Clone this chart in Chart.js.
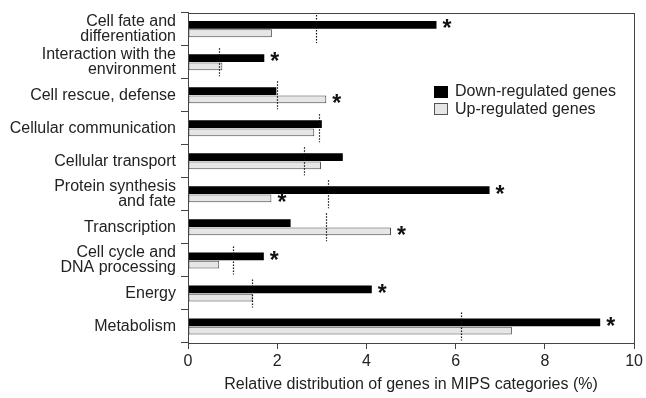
<!DOCTYPE html>
<html>
<head>
<meta charset="utf-8">
<script src="https://cdn.jsdelivr.net/npm/chart.js@4.4.1/dist/chart.umd.min.js"></script>
<style>
  html, body { margin: 0; padding: 0; background: #fff; }
  #wrap { width: 646px; height: 398px; position: relative; }
</style>
</head>
<body>
<div id="wrap"><canvas id="mipsChart"></canvas></div>
<script>
// Categorias MIPS (de arriba hacia abajo)
const categories = [
    ["Cell fate and", "differentiation"],
    ["Interaction with the", "environment"],
    ["Cell rescue, defense"],
    ["Cellular communication"],
    ["Cellular transport"],
    ["Protein synthesis", "and fate"],
    ["Transcription"],
    ["Cell cycle and", "DNA processing"],
    ["Energy"],
    ["Metabolism"],
];
const downValues = [5.57, 1.71, 1.98, 3.0, 3.47, 6.76, 2.3, 1.7, 4.12, 9.24];
const upValues = [1.88, 0.77, 3.1, 2.83, 2.98, 1.87, 4.55, 0.7, 1.45, 7.26];
// Valor esperado (linea punteada)
const expectedValues = [2.87, 0.69, 2.0, 2.94, 2.59, 3.14, 3.1, 1.01, 1.43, 6.12];
// Asteriscos de significancia
const downSignificant = [true, true, false, false, false, true, false, true, true, true];
const upSignificant = [false, false, true, false, false, true, true, false, false, false];
const xTicks = [0, 2, 4, 6, 8, 10];

const textColor = "#222";
const fontFamily = "'Liberation Sans', Arial, sans-serif";

const extrasPlugin = {
    id: "extras",
    afterDatasetsDraw(chart) {
        const ctx = chart.ctx;
        const area = chart.chartArea;
        const xScale = chart.scales.x;
        const downMeta = chart.getDatasetMeta(0);
        const upMeta = chart.getDatasetMeta(1);

        ctx.save();
        // Lineas punteadas del valor esperado
        ctx.strokeStyle = "#111";
        ctx.lineWidth = 1.2;
        ctx.setLineDash([1.5, 1.5]);
        expectedValues.forEach((v, i) => {
            const x = Math.round(xScale.getPixelForValue(v)) + 0.5;
            const yc = (downMeta.data[i].y + upMeta.data[i].y) / 2;
            ctx.beginPath();
            ctx.moveTo(x, yc - 14);
            ctx.lineTo(x, yc + 14);
            ctx.stroke();
        });
        ctx.setLineDash([]);

        // Asteriscos
        ctx.fillStyle = "#111";
        ctx.font = "bold 23px " + fontFamily;
        ctx.textAlign = "left";
        ctx.textBaseline = "middle";
        downSignificant.forEach((s, i) => {
            if (!s) return;
            const bar = downMeta.data[i];
            ctx.fillText("*", bar.x + 6, bar.y + 5);
        });
        upSignificant.forEach((s, i) => {
            if (!s) return;
            const bar = upMeta.data[i];
            ctx.fillText("*", bar.x + 6, bar.y + 5);
        });

        // Marco del grafico
        ctx.strokeStyle = "#444";
        ctx.lineWidth = 1;
        ctx.strokeRect(
            Math.round(area.left) + 0.5,
            Math.round(area.top) + 0.5,
            Math.round(area.right - area.left),
            Math.round(area.bottom - area.top)
        );

        // Leyenda dentro del area
        ctx.font = "16px " + fontFamily;
        ctx.textBaseline = "middle";
        ctx.fillStyle = "#000";
        ctx.fillRect(434, 86, 14, 12);
        ctx.fillStyle = "#e6e6e6";
        ctx.fillRect(434, 103, 14, 12);
        ctx.strokeStyle = "#555";
        ctx.strokeRect(434.5, 103.5, 13, 11);
        ctx.fillStyle = textColor;
        ctx.fillText("Down-regulated genes", 455, 92);
        ctx.fillText("Up-regulated genes", 455, 110);
        ctx.restore();
    },
};

const ctx = document.getElementById("mipsChart").getContext("2d");

new Chart(ctx, {
    type: "bar",
    data: {
        labels: categories,
        datasets: [
            {
                label: "Down-regulated genes",
                data: downValues,
                backgroundColor: "#000",
                borderColor: "#000",
                borderWidth: 0,
                categoryPercentage: 0.5,
                barPercentage: 0.94,
            },
            {
                label: "Up-regulated genes",
                data: upValues,
                backgroundColor: "#e6e6e6",
                borderColor: "#444",
                borderWidth: 1,
                borderSkipped: false,
                categoryPercentage: 0.5,
                barPercentage: 0.94,
            },
        ],
    },
    options: {
        indexAxis: "y",
        responsive: true,
        maintainAspectRatio: false,
        animation: false,
        layout: { padding: { top: 11, right: 10, left: 0, bottom: 0 } },
        plugins: {
            legend: { display: false },
            tooltip: { enabled: false },
        },
        scales: {
            x: {
                min: 0,
                max: 10,
                afterBuildTicks: (scale) => {
                    scale.ticks = xTicks.map((v) => ({ value: v }));
                },
                afterFit: (scale) => {
                    scale.height = 55;
                },
                grid: {
                    drawOnChartArea: false,
                    tickLength: 6,
                    color: "#444",
                },
                border: { color: "#444" },
                ticks: {
                    color: textColor,
                    padding: 3,
                    maxRotation: 0,
                    font: { family: fontFamily, size: 16 },
                },
                title: {
                    display: true,
                    text: "Relative distribution of genes in MIPS categories (%)",
                    color: textColor,
                    padding: { top: 4 },
                    font: { family: fontFamily, size: 16 },
                },
            },
            y: {
                afterFit: (scale) => {
                    scale.width = 188;
                },
                grid: {
                    drawOnChartArea: false,
                    offset: true,
                    tickLength: 7,
                    color: "#444",
                },
                border: { color: "#444" },
                ticks: {
                    color: textColor,
                    padding: 5,
                    autoSkip: false,
                    font: { family: fontFamily, size: 16, lineHeight: 0.95 },
                },
            },
        },
    },
    plugins: [extrasPlugin],
});
</script>
</body>
</html>
